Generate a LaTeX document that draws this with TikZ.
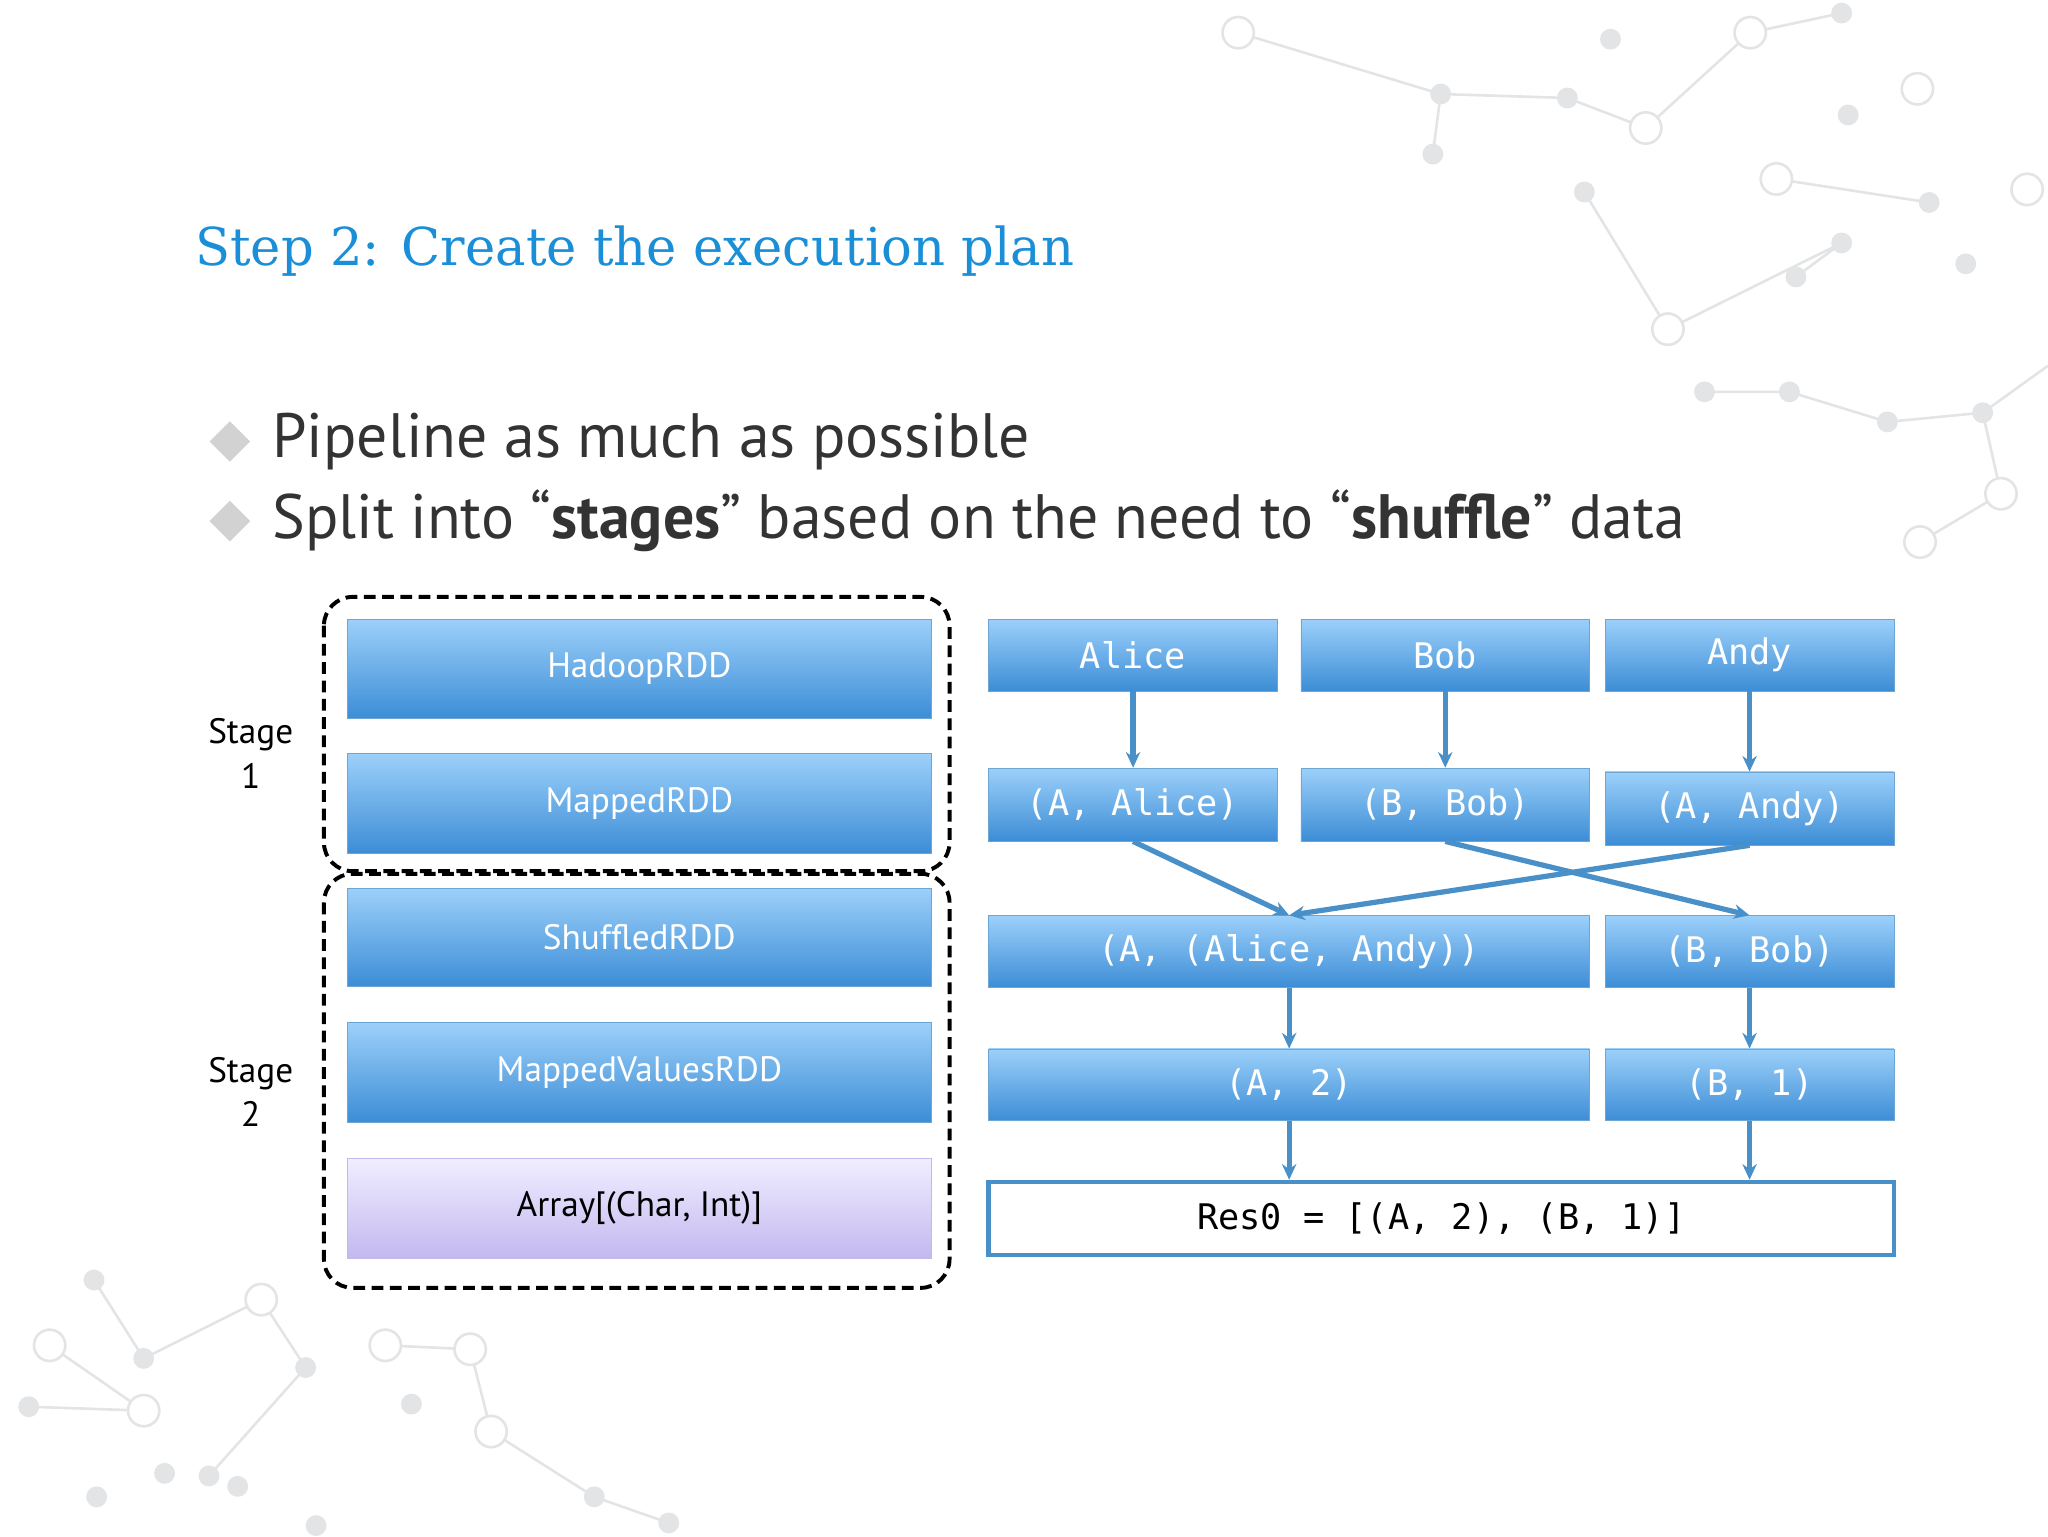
\documentclass[tikz,border=0pt]{standalone}
\usepackage{fontspec}
\setmainfont{PT Sans}
\newfontfamily\mono{DejaVu Sans Mono}
\newfontfamily\ttl{DejaVu Serif}
\usetikzlibrary{arrows.meta}
\definecolor{bluetop}{HTML}{9CD0FA}
\definecolor{bluebot}{HTML}{3C8DD6}
\definecolor{edge}{HTML}{4A90C8}
\definecolor{ttlc}{HTML}{1A8FD8}
\definecolor{deco}{HTML}{E2E4E6}
\definecolor{vtop}{HTML}{F0EEFF}
\definecolor{vbot}{HTML}{C4B8F0}
\begin{document}
\begin{tikzpicture}[x=1pt,y=-1pt,
  bb/.style={draw=edge!80!white,top color=bluetop,bottom color=bluebot,minimum height=#1,inner sep=0pt,text=white},
  lt/.style={font=\fontsize{27}{28}\selectfont},
  rt/.style={font=\mono\fontsize{27}{28}\selectfont},
  arr/.style={-{Stealth[length=12pt,width=11pt]},draw=edge,line width=4pt},
  stg/.style={draw,line width=3pt,dash pattern=on 9pt off 5pt,rounded corners=22pt},
  dc/.style={draw=deco,line width=2pt,fill=white},
  dd/.style={fill=deco}]
\useasboundingbox (0,0) rectangle (1568,1176);
% decoration
\draw[deco,line width=2pt] (948,25)--(1103,72)--(1200,75)--(1260,98)--(1340,25)--(1410,10);
\draw[deco,line width=2pt] (1103,72)--(1097,118) (1213,147)--(1277,252)--(1410,186)--(1375,212) (1305,300)--(1370,300)--(1445,323)--(1518,316)--(1568,280);
\draw[deco,line width=2pt] (1477,155)--(1360,137) (1518,316)--(1532,378)--(1470,415);
\draw[deco,line width=2pt] (72,980)--(110,1040)--(200,995)--(234,1047)--(160,1130) (38,1030)--(110,1080)--(22,1077) (295,1030)--(360,1033)--(376,1096)--(455,1146)--(512,1166);
\foreach \p in {(948,25),(1260,98),(1340,25),(1360,137),(1277,252),(1532,378),(1470,415),(1468,68),(1552,145),(110,1080),(200,995),(38,1030),(295,1030),(360,1033),(376,1096)} \draw[dc] \p circle (12);
\foreach \p in {(1103,72),(1200,75),(1097,118),(1213,147),(1410,186),(1375,212),(1305,300),(1370,300),(1445,323),(1518,316),(1410,10),(1233,30),(1415,88),(1477,155),(1505,202),(72,980),(110,1040),(234,1047),(160,1130),(22,1077),(455,1146),(512,1166),(74,1146),(126,1128),(315,1075),(182,1138),(242,1168)} \fill[dd] \p circle (8);
% title
\node[anchor=west,text=ttlc,font=\ttl\fontsize{40}{42}\selectfont,xscale=0.98] (title) at (146,192) {Step 2: Create the execution plan};
\node[fill=gray!35,rotate=45,minimum size=22pt,inner sep=0pt] (d1) at (176,338) {};
\node[fill=gray!35,rotate=45,minimum size=22pt,inner sep=0pt] (d2) at (176,399) {};
\node[anchor=west,text=black!80,font=\fontsize{48}{50}\selectfont,xscale=0.985] (b1) at (205,338) {Pipeline as much as possible};
\node[anchor=west,text=black!80,font=\fontsize{48}{50}\selectfont,xscale=0.985] (b2) at (205,399) {Split into “\textbf{stages}” based on the need to “\textbf{shuffle}” data};
% left
\node[bb=76pt,minimum width=447pt,lt] (h) at (489.5,512) {HadoopRDD};
\node[bb=76pt,minimum width=447pt,lt] (m) at (489.5,615) {MappedRDD};
\node[bb=75pt,minimum width=447pt,lt] (s) at (489.5,717.5) {ShuffledRDD};
\node[bb=76pt,minimum width=447pt,lt] (mv) at (489.5,821) {MappedValuesRDD};
\node[draw=vbot,top color=vtop,bottom color=vbot,minimum height=76pt,minimum width=447pt,inner sep=0pt,lt] (ar) at (489.5,925) {Array[(Char, Int)]};
\draw[stg] (248,457) rectangle (727,667);
\draw[stg] (248,669) rectangle (727,986);
\node[align=center,font=\fontsize{27}{34}\selectfont] (s1) at (192,577) {Stage\\1};
\node[align=center,font=\fontsize{27}{34}\selectfont] (s2) at (192,836) {Stage\\2};
% right
\node[bb=55pt,minimum width=221pt,rt] (al) at (867.5,501.5) {Alice};
\node[bb=55pt,minimum width=221pt,rt] (bo) at (1106.5,501.5) {Bob};
\node[bb=55pt,minimum width=221pt,rt] (an) at (1339.5,501.5) {Andy};
\node[bb=56pt,minimum width=221pt,rt] (a2) at (867.5,616) {(A, Alice)};
\node[bb=56pt,minimum width=221pt,rt] (b2n) at (1106.5,616) {(B, Bob)};
\node[bb=56pt,minimum width=221pt,rt] (an2) at (1339.5,619) {(A, Andy)};
\node[bb=55pt,minimum width=460pt,rt] (aa) at (987,728.5) {(A, (Alice, Andy))};
\node[bb=55pt,minimum width=221pt,rt] (bb3) at (1339.5,728.5) {(B, Bob)};
\node[bb=55pt,minimum width=460pt,rt] (a4) at (987,830.5) {(A, 2)};
\node[bb=55pt,minimum width=221pt,rt] (b4) at (1339.5,830.5) {(B, 1)};
\node[draw=edge,line width=3.5pt,fill=white,minimum width=693pt,minimum height=56pt,inner sep=0pt,rt,text=black] (res) at (1103.5,933) {Res0 = [(A, 2), (B, 1)]};
\draw[arr] (al.south) -- (a2.north);
\draw[arr] (bo.south) -- (b2n.north);
\draw[arr] (an.south) -- (an2.north);
\draw[arr] (a2.south) -- (aa.north);
\draw[arr] (an2.south) -- (aa.north);
\draw[arr] (b2n.south) -- (bb3.north);
\draw[arr] (aa.south) -- (a4.north);
\draw[arr] (bb3.south) -- (b4.north);
\draw[arr] (a4.south) -- (a4.south|-res.north);
\draw[arr] (b4.south) -- (b4.south|-res.north);
\end{tikzpicture}
\end{document}
